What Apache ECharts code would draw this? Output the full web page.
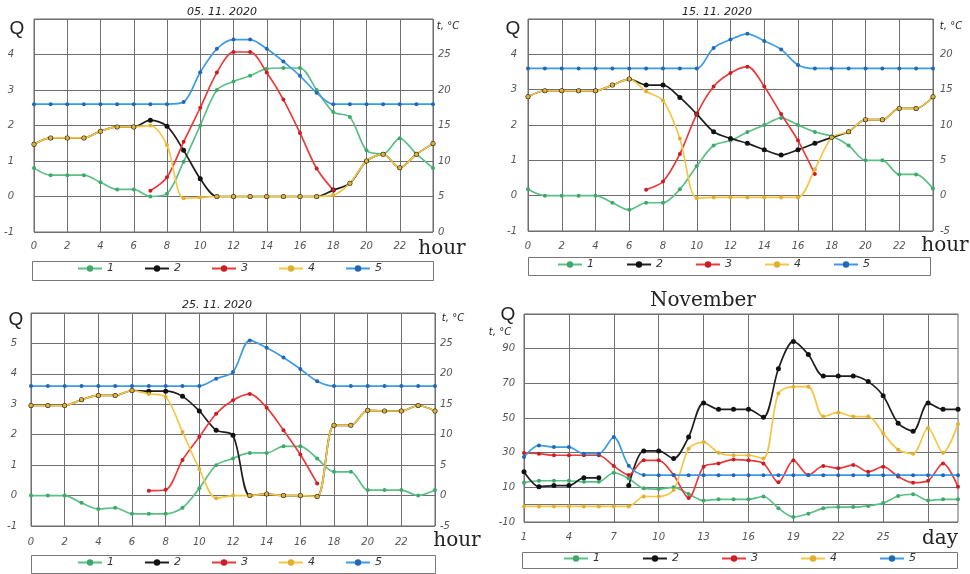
<!DOCTYPE html>
<html>
<head>
<meta charset="utf-8">
<script src="https://cdn.jsdelivr.net/npm/echarts@6/dist/echarts.min.js"></script>
<style>
html, body { margin: 0; padding: 0; background: #fff; }
#chart { width: 970px; height: 574px; }
</style>
</head>
<body>
<div id="chart"></div>
<script>
// categories
const hours = [0, 1, 2, 3, 4, 5, 6, 7, 8, 9, 10, 11, 12, 13, 14, 15, 16, 17, 18, 19, 20, 21, 22, 23, 24]
const days = [1, 2, 3, 4, 5, 6, 7, 8, 9, 10, 11, 12, 13, 14, 15, 16, 17, 18, 19, 20, 21, 22, 23, 24, 25, 26, 27, 28, 29, 30]
const names = ['1', '2', '3', '4', '5']

// 05.11.2020  (1 and 5 in t,°C on the right axis; 2,3,4 in Q)
const d05s1 = [9.0, 8.0, 8.0, 8.0, 7.0, 6.0, 6.0, 5.0, 5.4, 9.9, 15.0, 20.0, 21.2, 22.0, 23.0, 23.1, 23.1, 20.0, 16.9, 16.2, 11.5, 11.0, 13.2, 11.0, 9.0]
const d05s2 = [1.47, 1.65, 1.65, 1.65, 1.84, 1.96, 1.96, 2.15, 1.98, 1.3, 0.5, 0, 0, 0, 0, 0, 0, 0, 0.18, 0.37, 1.0, 1.19, 0.81, 1.19, 1.49]
const d05s3 = [null, null, null, null, null, null, null, 0.16, 0.54, 1.54, 2.5, 3.49, 4.07, 4.07, 3.49, 2.73, 1.79, 0.79, 0.18, null, null, null, null, null, null]
const d05s4 = [1.47, 1.65, 1.65, 1.65, 1.84, 1.96, 1.96, 2.0, 1.45, -0.05, -0.03, 0, 0, 0, 0, 0, 0, 0, 0.04, 0.37, 1.0, 1.19, 0.81, 1.19, 1.49]
const d05s5 = [18, 18, 18, 18, 18, 18, 18, 18, 18, 18.3, 22.5, 25.8, 27.1, 27.1, 25.8, 24.0, 22.0, 19.6, 18, 18, 18, 18, 18, 18, 18]

// 15.11.2020
const d15s1 = [0.9, 0, 0, 0, 0, -1.0, -2.0, -1.0, -1.0, 0.9, 4.2, 7.1, 7.8, 9.0, 10.0, 11.0, 10.0, 9.0, 8.4, 7.1, 5.0, 5.0, 3.0, 3.0, 1.0]
const d15s2 = [2.8, 2.97, 2.97, 2.97, 2.97, 3.13, 3.3, 3.13, 3.13, 2.78, 2.31, 1.81, 1.62, 1.48, 1.3, 1.15, 1.3, 1.48, 1.65, 1.81, 2.15, 2.15, 2.47, 2.47, 2.8]
const d15s3 = [null, null, null, null, null, null, null, 0.17, 0.4, 1.18, 2.31, 3.09, 3.47, 3.65, 3.09, 2.31, 1.56, 0.61, null, null, null, null, null, null, null]
const d15s4 = [2.8, 2.97, 2.97, 2.97, 2.97, 3.13, 3.3, 2.95, 2.69, 1.62, -0.07, -0.05, -0.05, -0.05, -0.05, -0.05, -0.05, 0.75, 1.65, 1.81, 2.15, 2.15, 2.47, 2.47, 2.8]
const d15s5 = [18, 18, 18, 18, 18, 18, 18, 18, 18, 18, 18, 20.9, 22.1, 22.9, 21.9, 20.7, 18.5, 18, 18, 18, 18, 18, 18, 18, 18]

// 25.11.2020
const d25s1 = [0, 0, 0, -1.2, -2.2, -2.0, -3.0, -3.0, -3.0, -2.0, 1.2, 5.0, 6.1, 7.0, 7.0, 8.1, 8.1, 6.1, 3.9, 3.9, 0.9, 0.9, 0.9, 0, 0.9]
const d25s2 = [2.96, 2.96, 2.96, 3.15, 3.29, 3.29, 3.45, 3.43, 3.43, 3.26, 2.78, 2.15, 1.98, 0, 0.05, 0, 0, -0.03, 2.31, 2.31, 2.8, 2.78, 2.78, 2.96, 2.78]
const d25s3 = [null, null, null, null, null, null, null, 0.16, 0.19, 1.17, 1.93, 2.69, 3.13, 3.34, 2.89, 2.15, 1.35, 0.4, null, null, null, null, null, null, null]
const d25s4 = [2.96, 2.96, 2.96, 3.15, 3.29, 3.29, 3.45, 3.34, 3.24, 2.09, 0.87, -0.09, 0, 0, 0.05, 0, 0, -0.03, 2.31, 2.31, 2.8, 2.78, 2.78, 2.96, 2.78]
const d25s5 = [18, 18, 18, 18, 18, 18, 18, 18, 18, 18, 18, 19.2, 20.3, 25.5, 24.3, 22.7, 20.8, 18.8, 18, 18, 18, 18, 18, 18, 18]

// November, by day
const novS1 = [12.7, 13.8, 13.8, 13.8, 13.2, 13.2, 18.4, 15.1, 9.4, 9.0, 10.0, 6.2, 2.4, 3.1, 3.1, 3.1, 4.7, -2.0, -7.1, -5.2, -2.0, -1.4, -1.4, -0.7, 0.9, 5.0, 6.0, 2.4, 3.1, 3.1]
const novS2 = [19, 10.4, 11, 11, 15.5, 15.5, null, 11, 31, 31, 26.6, 39, 58.6, 55, 55, 55, 50.4, 78.4, 94.2, 86.6, 74.2, 74.2, 74.2, 71, 62.8, 47, 42.4, 58.6, 55, 55]
const novS3 = [29.8, 29.4, 28.5, 28.5, 28.5, 28.5, 22.3, 17.1, 25.6, 25.6, 17.1, 3.8, 21.9, 23.8, 26, 25.6, 23.8, 12.9, 25.6, 17.1, 22.3, 21, 22.9, 19, 21.9, 16.2, 12.7, 13.8, 23.8, 10.4]
const novS4 = [-1, -1, -1, -1, -1, -1, -1, -1, 4.7, 4.7, 8.5, 32.3, 36.1, 30, 28.5, 28.5, 26.6, 64.1, 68.1, 68.1, 50.8, 53.2, 50.8, 50.8, 41.2, 31.7, 29.4, 44.3, 30, 46.6]
const novS5 = [27.5, 34.2, 33.2, 33.2, 29.4, 29.4, 39, 22.4, 17.1, 17, 17, 17, 17, 17, 17, 17, 17, 17, 17, 17, 17, 17, 17, 17, 17, 17, 17, 17, 17, 17]

const gridColor = '#707070'
const labelFont = { fontFamily: 'DejaVu Sans', fontStyle: 'italic', fontSize: 10, color: '#555' }
const colors = {
  '1': { line: '#5cbf86', dot: '#3fa86c' },
  '2': { line: '#1e1e1e', dot: '#111' },
  '3': { line: '#ea3a3a', dot: '#c81e24' },
  '4': { line: '#f5c646', dot: '#e0b030' },
  '5': { line: '#3d9be6', dot: '#2467b4' }
}

function lineSeries (name, data, idx, yIdx) {
  return {
    name: name,
    type: 'line',
    xAxisIndex: idx,
    yAxisIndex: yIdx,
    data: data,
    smooth: 0.3,
    symbol: 'circle',
    symbolSize: name === '2' ? 5 : 4,
    connectNulls: false,
    animation: false,
    lineStyle: { width: 1.7, color: colors[name].line },
    itemStyle: { color: colors[name].dot },
    emphasis: { disabled: true }
  }
}

function hourAxis (idx, margin) {
  return {
    type: 'category',
    gridIndex: idx,
    data: hours,
    boundaryGap: false,
    axisLine: { show: false },
    axisTick: { show: false },
    axisLabel: Object.assign({ interval: 1, margin: margin, formatter: v => (Number(v) === 24 ? '' : v) }, labelFont),
    splitLine: { show: true, interval: 1, lineStyle: { color: gridColor } }
  }
}

function leftQ (idx, min, max, margin) {
  return {
    type: 'value',
    gridIndex: idx,
    min: min,
    max: max,
    interval: 1,
    axisLine: { show: false },
    axisTick: { show: false },
    axisLabel: Object.assign({ showMaxLabel: false, margin: margin }, labelFont),
    splitLine: { lineStyle: { color: gridColor } }
  }
}

function rightT (idx, min, max, margin) {
  return {
    type: 'value',
    gridIndex: idx,
    position: 'right',
    min: min,
    max: max,
    interval: 5,
    axisLine: { show: false },
    axisTick: { show: false },
    axisLabel: Object.assign({ showMaxLabel: false, margin: margin }, labelFont),
    splitLine: { show: false }
  }
}

function legendAt (left, top, gap) {
  return {
    left: left,
    top: top,
    padding: 0,
    itemGap: gap,
    itemWidth: 24,
    itemHeight: 8,
    selectedMode: false,
    data: names,
    textStyle: { fontFamily: 'DejaVu Sans', fontStyle: 'italic', fontSize: 11, color: '#333' }
  }
}

function txt (x, y, text, font, align) {
  return {
    type: 'text',
    x: x,
    y: y,
    silent: true,
    style: { text: text, font: font, fill: '#222', align: align || 'center', verticalAlign: 'middle' }
  }
}

function box (x, y, w, h) {
  return {
    type: 'rect',
    silent: true,
    shape: { x: x + 0.5, y: y + 0.5, width: w, height: h },
    style: { fill: null, stroke: '#777', lineWidth: 1 }
  }
}

const smallItalic = 'italic 11px "DejaVu Sans"'
const tFont = 'italic 10px "DejaVu Sans"'
const qFont = '19px "Liberation Sans"'
const serif = '20px "DejaVu Serif"'

// day axis: lines at -10,0,10,30,50,70,90,110
const novSplitColors = [gridColor, gridColor, gridColor, 'rgba(0,0,0,0)', gridColor, 'rgba(0,0,0,0)', gridColor, 'rgba(0,0,0,0)', gridColor, 'rgba(0,0,0,0)', gridColor, 'rgba(0,0,0,0)', gridColor]

const daily = [
  [d05s1, d05s2, d05s3, d05s4, d05s5],
  [d15s1, d15s2, d15s3, d15s4, d15s5],
  [d25s1, d25s2, d25s3, d25s4, d25s5]
]
const novSets = [novS1, novS2, novS3, novS4, novS5]

const series = []
daily.forEach((set, p) => {
  set.forEach((data, k) => {
    // 1 and 5 are temperatures -> right axis
    const onRight = (k === 0 || k === 4)
    series.push(lineSeries(names[k], data, p, p * 2 + (onRight ? 1 : 0)))
  })
})
novSets.forEach((data, k) => {
  series.push(lineSeries(names[k], data, 3, 6))
})

const option = {
  backgroundColor: '#fff',
  animation: false,
  grid: [
    { left: 34, top: 19, width: 399, height: 213, show: true, borderColor: '#666', borderWidth: 1 },
    { left: 528, top: 19, width: 405, height: 212, show: true, borderColor: '#666', borderWidth: 1 },
    { left: 31, top: 313, width: 404, height: 213, show: true, borderColor: '#666', borderWidth: 1 },
    { left: 524, top: 314, width: 434, height: 208, show: true, borderColor: '#666', borderWidth: 1 }
  ],
  xAxis: [
    hourAxis(0, 9),
    hourAxis(1, 10),
    hourAxis(2, 11),
    {
      type: 'category',
      gridIndex: 3,
      data: days,
      boundaryGap: false,
      axisLine: { show: false },
      axisTick: { show: false },
      // 28 gives way to the word "day"
      axisLabel: Object.assign({ interval: 2, margin: 10, formatter: v => (Number(v) >= 28 ? '' : v) }, labelFont),
      splitLine: { show: true, interval: 2, lineStyle: { color: gridColor } }
    }
  ],
  yAxis: [
    leftQ(0, -1, 5, 20), rightT(0, 0, 30, 5),
    leftQ(1, -1, 5, 11), rightT(1, -5, 25, 7),
    leftQ(2, -1, 6, 14), rightT(2, -5, 30, 5),
    {
      type: 'value',
      gridIndex: 3,
      min: -10,
      max: 110,
      interval: 10,
      axisLine: { show: false },
      axisTick: { show: false },
      axisLabel: Object.assign({
        margin: 9,
        formatter: v => ((v + 10) % 20 === 0 && v < 110 ? v : '')
      }, labelFont),
      splitLine: { lineStyle: { color: novSplitColors } }
    }
  ],
  legend: [
    legendAt(77, 263, 30),
    legendAt(557, 259, 32),
    legendAt(77, 557, 30),
    legendAt(563, 553, 42)
  ],
  graphic: [
    txt(222, 12, '05. 11. 2020', smallItalic),
    txt(717, 12, '15. 11. 2020', smallItalic),
    txt(217, 305, '25. 11. 2020', smallItalic),
    txt(703, 301, 'November', serif),
    txt(17, 29, 'Q', qFont),
    txt(513, 29, 'Q', qFont),
    txt(16, 320, 'Q', qFont),
    txt(508, 315, 'Q', qFont),
    txt(448, 26, 't, °C', tFont),
    txt(951, 26, 't, °C', tFont),
    txt(453, 318, 't, °C', tFont),
    txt(500, 332, 't, °C', tFont),
    txt(442, 249, 'hour', serif),
    txt(945, 246, 'hour', serif),
    txt(457, 541, 'hour', serif),
    txt(940, 539, 'day', serif),
    box(32, 261, 401, 19),
    box(528, 257, 402, 18),
    box(31, 555, 404, 18),
    box(522, 552, 435, 16)
  ],
  series: series
}

const chart = echarts.init(document.getElementById('chart'))
chart.setOption(option)
</script>
</body>
</html>
